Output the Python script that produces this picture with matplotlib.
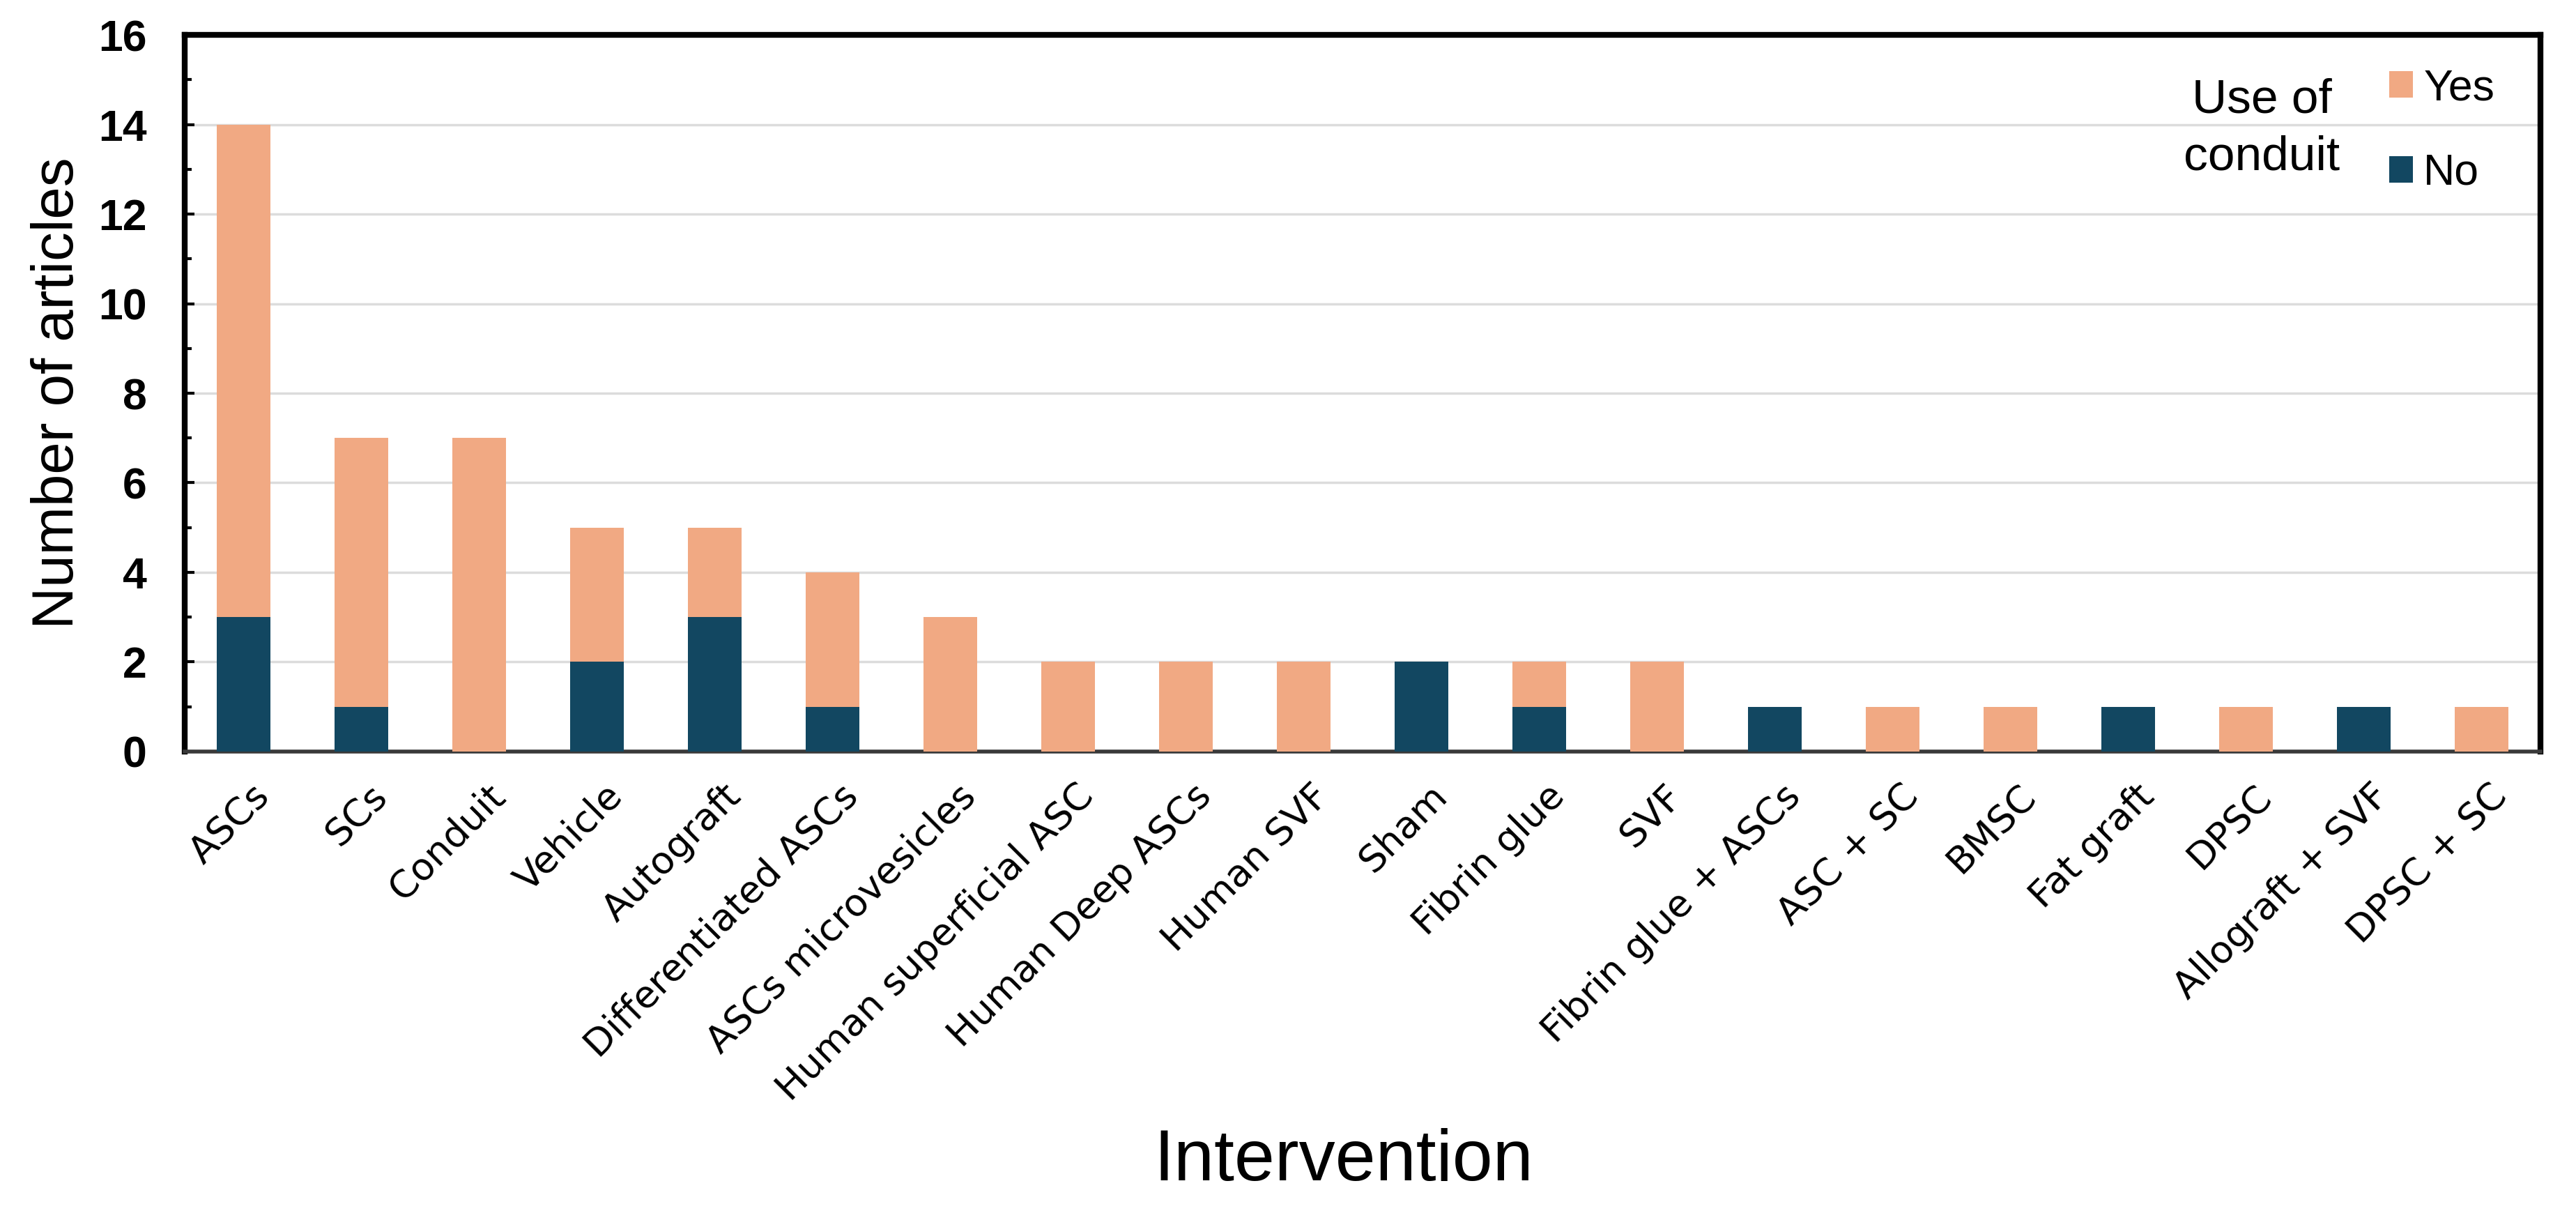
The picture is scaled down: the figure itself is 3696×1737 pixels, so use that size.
import matplotlib.pyplot as plt
import matplotlib.transforms as mtransforms
import numpy as np
from matplotlib.ticker import MultipleLocator

categories = ['ASCs', 'SCs', 'Conduit', 'Vehicle', 'Autograft', 'Differentiated ASCs',
              'ASCs microvesicles', 'Human superficial ASC', 'Human Deep ASCs', 'Human SVF',
              'Sham', 'Fibrin glue', 'SVF', 'Fibrin glue + ASCs', 'ASC + SC', 'BMSC',
              'Fat graft', 'DPSC', 'Allograft + SVF', 'DPSC + SC']
no_conduit = [3, 1, 0, 2, 3, 1, 0, 0, 0, 0, 2, 1, 0, 1, 0, 0, 1, 0, 1, 0]
yes_conduit = [11, 6, 7, 3, 2, 3, 3, 2, 2, 2, 0, 1, 2, 0, 1, 1, 0, 1, 0, 1]

col_yes = '#F1A983'
col_no = '#124761'

plt.rcParams['font.family'] = ['Liberation Sans', 'DejaVu Sans']

fig = plt.figure(figsize=(36.96, 17.37), dpi=100)
ax = fig.add_axes([0.0717, 0.3794, 0.9145, 0.5918])

x = np.arange(len(categories))
ax.bar(x, no_conduit, 0.45, color=col_no, label='No', zorder=3)
ax.bar(x, yes_conduit, 0.45, bottom=no_conduit, color=col_yes, label='Yes', zorder=3)

ax.set_xlim(-0.5, len(categories) - 0.5)
ax.set_ylim(0, 16)
ax.yaxis.set_major_locator(MultipleLocator(2))
ax.yaxis.set_minor_locator(MultipleLocator(1))
ax.grid(axis='y', which='major', color='#DCDCDC', linewidth=2.5, zorder=0)

ax.tick_params(axis='y', which='major', direction='in', length=10, width=3,
               pad=39, labelsize=45)
ax.tick_params(axis='y', which='minor', direction='in', length=7, width=3)
for lab in ax.get_yticklabels():
    lab.set_fontweight('bold')

ax.set_xticks(x)
ax.set_xticklabels(categories, rotation=45, ha='right', va='top',
                   rotation_mode='anchor', fontsize=39, family='DejaVu Sans')
ax.tick_params(axis='x', length=0, pad=27)
shift = mtransforms.ScaledTranslation(0.1, 0, fig.dpi_scale_trans)
for lab in ax.get_xticklabels():
    lab.set_transform(lab.get_transform() + shift)

for s in ['left', 'top', 'right']:
    ax.spines[s].set_linewidth(6)
    ax.spines[s].set_color('black')
ax.spines['bottom'].set_linewidth(4)
ax.spines['bottom'].set_color('#3a3a3a')

ax.set_ylabel('Number of articles', fontsize=60)
ax.set_xlabel('Intervention', fontsize=75)
ax.xaxis.set_label_coords(0.492, -0.525)
ax.yaxis.set_label_coords(-0.0423, 0.5)

handles, labels = ax.get_legend_handles_labels()
ax.legend(handles[::-1], labels[::-1], loc='upper left', bbox_to_anchor=(0.9358, 0.954),
          frameon=False, fontsize=45, handlelength=0.55, handleheight=0.55,
          handletextpad=0.24, borderpad=0, borderaxespad=0, labelspacing=1.0)
ax.text(0.9148, 0.94, 'Use of\nconduit', transform=ax.transAxes, ha='right', va='top',
        ma='center', fontsize=50, linespacing=1.35)

plt.savefig('out.png')
